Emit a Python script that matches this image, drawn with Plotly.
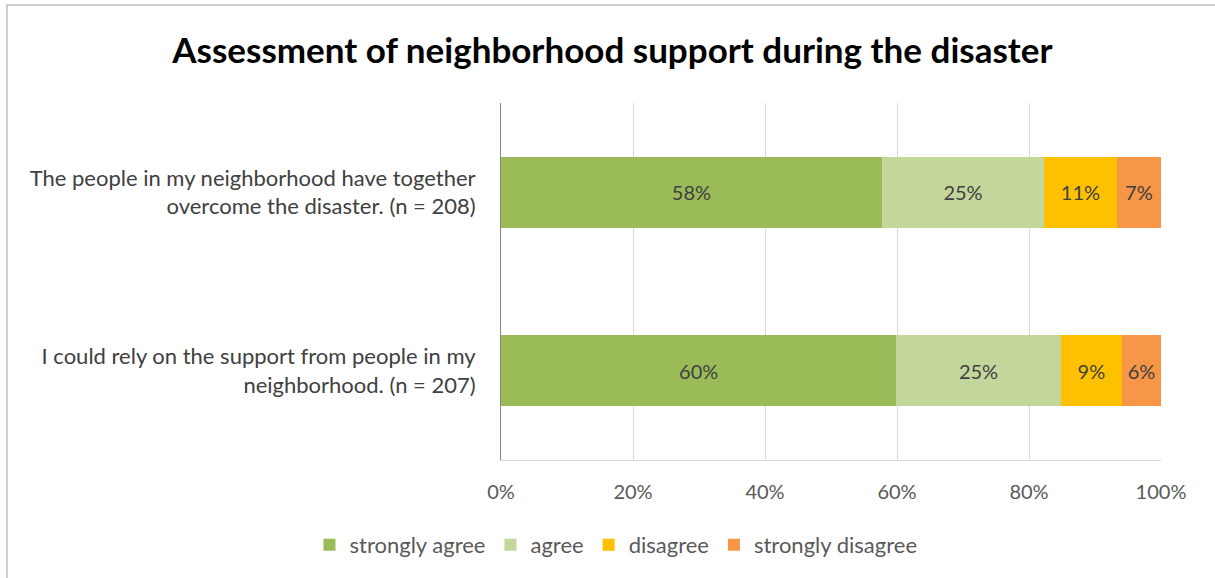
import plotly.graph_objects as go

categories = [
    "The people in my neighborhood have together<br>overcome the disaster. (n = 208)",
    "I could rely on the support from people in my<br>neighborhood. (n = 207)",
]
series_names = ["strongly agree", "agree", "disagree", "strongly disagree"]
strongly_agree = [57.7, 59.9]
agree = [24.6, 24.9]
disagree = [11.0, 9.3]
strongly_disagree = [6.7, 5.9]
x_ticks = [0, 20, 40, 60, 80, 100]
x_tick_labels = ["0%", "20%", "40%", "60%", "80%", "100%"]

colors = ["#9BBB59", "#C3D69B", "#FFC000", "#F79646"]
FONT = "Lato"

fig = go.Figure()
for name, vals, col in zip(series_names,
                           [strongly_agree, agree, disagree, strongly_disagree],
                           colors):
    fig.add_trace(go.Bar(
        y=categories, x=vals, name=name, orientation="h",
        marker=dict(color=col, line=dict(width=0)),
        texttemplate="%{x:.0f}%", textposition="inside",
        insidetextanchor="middle",
        textfont=dict(family=FONT, size=20, color="#404040"),
        hoverinfo="skip",
    ))

# chart frame
fig.add_shape(type="rect", xref="paper", yref="paper",
              x0=-0.7485, x1=1.2, y0=-0.45, y1=1.2745,
              line=dict(color="#BFBFBF", width=1.5), fillcolor="rgba(0,0,0,0)",
              layer="below")

fig.update_layout(
    width=1215, height=578,
    barmode="stack", bargap=0.6,
    paper_bgcolor="white", plot_bgcolor="white",
    margin=dict(l=501, r=54, t=103, b=118),
    title=dict(text="<b>Assessment of neighborhood support during the disaster</b>",
               x=0.504, xanchor="center", y=0.913, yanchor="middle",
               font=dict(family=FONT, size=35, color="#000000")),
    font=dict(family=FONT, size=20, color="#595959"),
    legend=dict(orientation="h", xref="container", yref="container",
                x=0.507, xanchor="center", y=0.057, yanchor="middle",
                font=dict(family=FONT, size=22, color="#595959"),
                itemwidth=30, traceorder="normal"),
    xaxis=dict(range=[0, 100], tickvals=x_ticks, ticktext=x_tick_labels,
               showgrid=True, gridcolor="#D9D9D9", gridwidth=1,
               showline=True, linecolor="#D9D9D9", linewidth=1,
               zeroline=False, ticks="", ticklabelstandoff=14,
               tickfont=dict(family=FONT, size=20, color="#595959"),
               fixedrange=True),
    yaxis=dict(autorange="reversed", showline=True, linecolor="#868686",
               linewidth=1, ticks="", ticklabelstandoff=20,
               tickfont=dict(family=FONT, size=22, color="#404040"),
               fixedrange=True),
)

fig.write_html("out.html")
